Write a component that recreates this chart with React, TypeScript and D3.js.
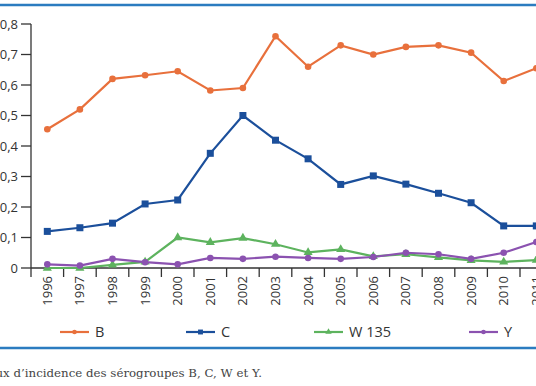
import React from 'react';
import * as d3 from 'd3';

const width = 536;
const height = 386;
const margin = {top: 24, left: 31, bottom: 268};
const bandStep = 32.6;

const years = ['1996', '1997', '1998', '1999', '2000', '2001', '2002', '2003',
  '2004', '2005', '2006', '2007', '2008', '2009', '2010', '2011'];
const valuesB = [0.455, 0.52, 0.62, 0.632, 0.645, 0.582, 0.59, 0.76, 0.66, 0.73,
  0.70, 0.725, 0.73, 0.706, 0.613, 0.655];
const valuesC = [0.12, 0.132, 0.147, 0.21, 0.223, 0.376, 0.50, 0.419, 0.358, 0.274,
  0.302, 0.275, 0.245, 0.214, 0.138, 0.138];
const valuesW = [0, 0, 0.01, 0.02, 0.10, 0.084, 0.098, 0.078, 0.051, 0.061,
  0.038, 0.045, 0.035, 0.025, 0.02, 0.026];
const valuesY = [0.012, 0.008, 0.03, 0.019, 0.012, 0.033, 0.03, 0.037, 0.033, 0.03,
  0.036, 0.05, 0.045, 0.03, 0.05, 0.085];
const yTicks = [0, 0.1, 0.2, 0.3, 0.4, 0.5, 0.6, 0.7, 0.8];

const series = [
  {name: 'B', values: valuesB, color: '#e8703c', marker: 'circle', legendX: 60},
  {name: 'C', values: valuesC, color: '#1b4f9b', marker: 'square', legendX: 186},
  {name: 'W 135', values: valuesW, color: '#5db35e', marker: 'triangle', legendX: 314},
  {name: 'Y', values: valuesY, color: '#8b52b0', marker: 'circle', legendX: 469},
];

const axisColor = '#333';
const ruleColor = '#2b7cc0';
const font = '"Open Sans", sans-serif';

const Marker = ({type, x, y, color, k = 1}: {type: string, x: number, y: number, color: string, k?: number}) => {
  if (type === 'square') {
    const s = 7 * k;
    return <rect x={x - s / 2} y={y - s / 2} width={s} height={s} fill={color} />;
  }
  if (type === 'triangle') {
    const sym = d3.symbol(d3.symbolTriangle, 36 * k * k)() || '';
    return <path d={sym} transform={`translate(${x},${y})`} fill={color} />;
  }
  return <circle cx={x} cy={y} r={3.3 * k} fill={color} />;
};

const App: React.FC = () => {
  const xScale = d3.scaleBand<string>()
    .domain(years)
    .range([margin.left, margin.left + bandStep * years.length]);

  const yScale = d3.scaleLinear()
    .domain([0, 0.8])
    .range([margin.bottom, margin.top]);

  const cx = (y: string) => (xScale(y) as number) + xScale.bandwidth() / 2;

  const line = d3.line<number>()
    .x((_, i) => cx(years[i]))
    .y(d => yScale(d));

  return (
    <svg width={width} height={height} style={{position: 'absolute', left: 0, top: 0}}>
      <rect x={0} y={0} width={width} height={height} fill='#fff' />
      <line x1={0} x2={width} y1={5} y2={5} stroke={ruleColor} strokeWidth={2.5} />

      {/* y axis */}
      <line x1={margin.left} x2={margin.left} y1={margin.top} y2={margin.bottom}
        stroke={axisColor} strokeWidth={1.3} />
      {yTicks.map(t => (
        <g key={t}>
          <line x1={21} x2={margin.left} y1={yScale(t)} y2={yScale(t)}
            stroke={axisColor} strokeWidth={1.3} />
          <text x={18} y={yScale(t)} dy='0.35em' textAnchor='end'
            fontFamily={font} fontSize={13} fill={axisColor}>
            {d3.format('.1f')(t).replace('.', ',').replace(/^0,0$/, '0')}
          </text>
        </g>
      ))}

      {/* x axis */}
      <line x1={margin.left} x2={width} y1={margin.bottom} y2={margin.bottom}
        stroke={axisColor} strokeWidth={1.3} />
      {years.map(y => (
        <g key={y}>
          <line x1={xScale(y) as number} x2={xScale(y) as number}
            y1={margin.bottom} y2={margin.bottom + 9} stroke={axisColor} strokeWidth={1.3} />
          <text transform={`translate(${cx(y)},${margin.bottom + 8}) rotate(-90)`}
            textAnchor='end' dy='0.35em' fontFamily={font} fontSize={13} fill={axisColor}>
            {y}
          </text>
        </g>
      ))}

      {/* series */}
      {series.map(s => (
        <g key={s.name}>
          <path d={line(s.values) || ''} fill='none' stroke={s.color} strokeWidth={2.2} />
          {s.values.map((v, i) => (
            <Marker key={i} type={s.marker} x={cx(years[i])} y={yScale(v)} color={s.color} />
          ))}
        </g>
      ))}

      {/* legend */}
      {series.map(s => (
        <g key={s.name} transform={`translate(${s.legendX},332)`}>
          <line x1={0} x2={29} y1={0} y2={0} stroke={s.color} strokeWidth={2.2} />
          <Marker type={s.marker} x={14.5} y={0} color={s.color} k={0.7} />
          <text x={35} y={0} dy='0.35em' fontFamily={font} fontSize={14.5} fill={axisColor}>
            {s.name}
          </text>
        </g>
      ))}

      <line x1={0} x2={width} y1={348} y2={348} stroke={ruleColor} strokeWidth={2.5} />
      <text x={262} y={377} textAnchor='end' fontFamily='"DejaVu Serif", serif'
        fontSize={11.8} fill='#444'>
        Taux d’incidence des sérogroupes B, C, W et Y.
      </text>
    </svg>
  );
};

export default App;
